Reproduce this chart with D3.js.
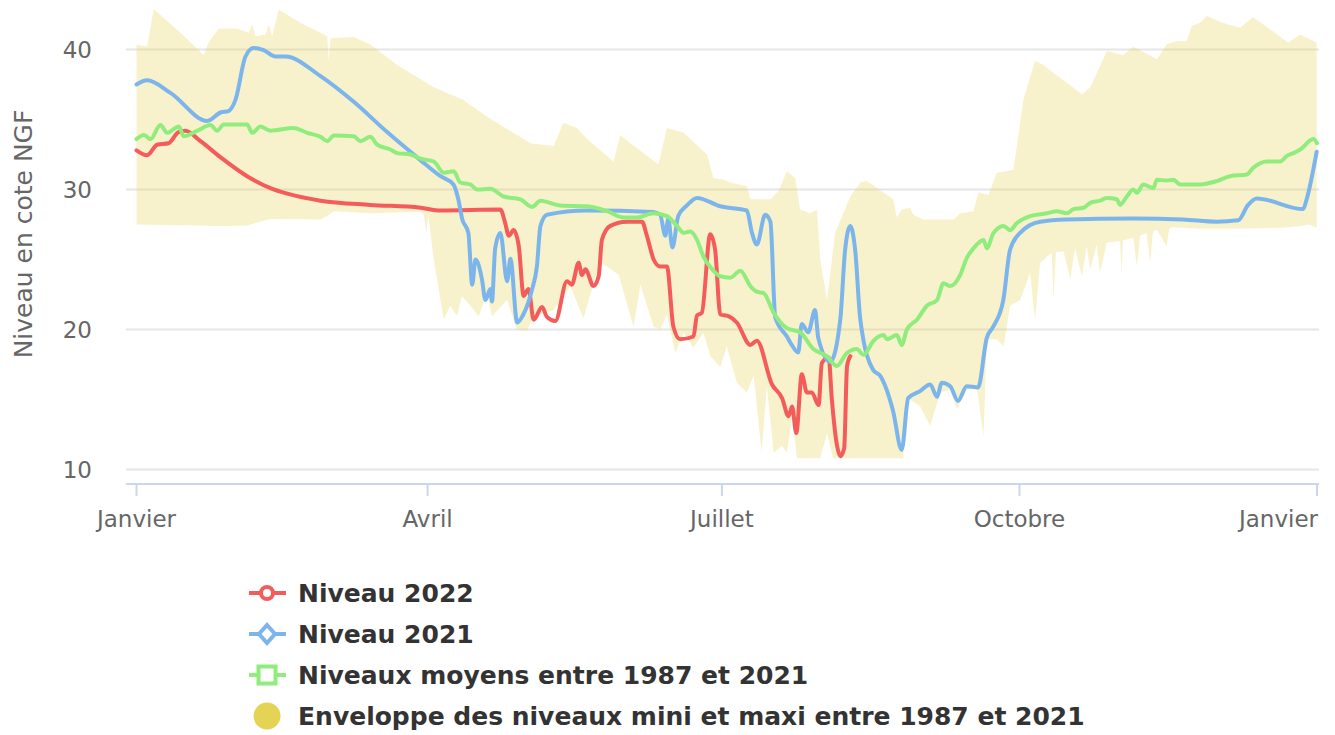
<!DOCTYPE html>
<html>
<head>
<meta charset="utf-8">
<script src="https://cdn.jsdelivr.net/npm/d3@7/dist/d3.min.js"></script>
<style>
  body { margin: 0; background: #fff; }
  svg { display: block; }
</style>
</head>
<body>
<div id="chart"></div>
<script>
(function () {
  'use strict';

  // ---- data: [day of year, level in m NGF] ----
  var niveau2022 = [
    [0, 32.8], [3.3, 32.45], [6.4, 33.2], [9.9, 33.3], [13, 34.1], [15.1, 34.2], [19.8, 33.45],
    [26, 32.3], [34.2, 30.95], [41.4, 30.1], [46.6, 29.7], [56.9, 29.2], [72.3, 28.9], [87.8, 28.7],
    [94, 28.5], [112.5, 28.57], [114, 27.6], [115.1, 26.7], [116.6, 27.1], [118.2, 25.95],
    [119.7, 22.4], [121.2, 22.9], [122.8, 20.7], [125.4, 21.6], [126.9, 20.9], [129.5, 20.6],
    [133.1, 23.45], [134.6, 23.2], [136.7, 24.76], [137.7, 23.9], [138.8, 24.3], [141.3, 23.1],
    [142.9, 23.8], [143.9, 26.4], [146.5, 27.4], [151.6, 27.7], [156.3, 27.7], [157.8, 26.7],
    [159.9, 25.0], [161.9, 24.5], [164, 24.5], [166, 20.2], [168.1, 19.3], [172.2, 19.5],
    [173.3, 21.0], [174.8, 21.2], [177.4, 26.8], [178.9, 25.7], [180.5, 21.07], [183, 20.95],
    [185.6, 20.5], [189.8, 18.9], [191.8, 19.2], [196.5, 16.07], [199.6, 15.1], [201.6, 13.8],
    [202.7, 14.5], [204, 12.6], [205.7, 16.8], [207.3, 15.5], [208.8, 15.5], [210.9, 14.6],
    [211.9, 17.6], [214, 18.0], [215, 15.0], [216.6, 11.7], [217.6, 10.95], [218.8, 11.5],
    [219.7, 17.4], [220.7, 18.1]
  ];

  var niveau2021 = [
    [0, 37.5], [3.3, 37.8], [10.5, 36.9], [21.9, 34.9], [26, 35.5], [28.4, 35.6], [30.6, 36.4],
    [33.7, 39.5], [36.2, 40.1], [39.3, 39.95], [43, 39.5], [46, 39.5], [56.9, 38.1], [67, 36.3],
    [77.5, 34.1], [87.8, 32.1], [94, 30.95], [98, 30.36], [99.5, 29.3], [100.7, 27.9],
    [102.6, 26.9], [103.8, 23.2], [104.8, 25.0], [106.8, 23.6], [107.9, 22.1], [109.4, 22.9],
    [109.9, 22.0], [110.9, 25.8], [112.5, 26.9], [114.6, 23.45], [115.6, 25.06], [117.7, 20.5],
    [119.6, 21.07], [122.3, 22.86], [123.8, 24.5], [124.9, 27.4], [126.9, 28.2], [139.3, 28.5],
    [159.8, 28.4], [161.9, 28.2], [163.5, 26.7], [164.4, 27.9], [165.7, 25.86], [167.5, 28.1],
    [170.2, 28.86], [173.3, 29.4], [180.5, 28.8], [188.7, 28.5], [190.3, 26.9], [191.8, 26.07],
    [194.4, 28.2], [196, 27.7], [197.5, 20.86], [201.1, 19.5], [202.6, 18.9], [204.6, 18.36],
    [205.7, 20.4], [207.7, 19.8], [209.8, 21.4], [210.8, 19.4], [214.5, 17.7], [217.6, 20.7],
    [219.1, 25.7], [220.7, 27.4], [222.2, 25.7], [223.8, 20.7], [227.8, 17.1], [229.9, 16.7],
    [233.9, 14.2], [236.6, 11.4], [238.6, 15.1], [242.3, 15.6], [245.4, 16.07], [247.5, 15.2],
    [249, 16.2], [251.6, 15.95], [254, 14.9], [256.7, 15.95], [260.2, 15.86], [262.9, 19.4],
    [264.9, 20.2], [268, 22.1], [270.1, 25.7], [273.2, 26.9], [279.4, 27.7], [287.6, 27.86],
    [308.1, 27.93], [323.6, 27.86], [334, 27.7], [340.6, 27.8], [343.7, 28.9], [346.4, 29.36],
    [360.7, 28.6], [361.8, 29.3], [364.9, 32.7]
  ];

  var niveauxMoyens = [
    [0, 33.6], [2.3, 33.9], [4.3, 33.6], [7.4, 34.6], [9.5, 34.05], [13.1, 34.5], [14.6, 33.8],
    [18.8, 34.2], [22.9, 34.6], [24.9, 34.2], [27, 34.64], [34.2, 34.64], [35.8, 34.05],
    [38.3, 34.5], [41.4, 34.2], [48.6, 34.4], [52.8, 34.05], [56.9, 33.76], [59, 33.45],
    [61, 33.86], [67.2, 33.8], [69.2, 33.45], [72.3, 33.76], [74.4, 33.2], [78.5, 32.86],
    [80.6, 32.6], [84.7, 32.5], [87.8, 32.2], [91.9, 32.0], [95, 31.2], [98.1, 31.3],
    [100.1, 30.5], [103.2, 30.36], [105.3, 30.0], [109.4, 30.05], [113.5, 29.5], [118.7, 29.3],
    [122.3, 28.76], [124.9, 29.2], [131, 28.86], [139.3, 28.8], [145.5, 28.45], [150.6, 28.0],
    [154.7, 28.0], [159.9, 28.3], [164, 28.1], [167.1, 27.4], [169.2, 26.9], [171.2, 27.0],
    [173.3, 26.4], [175.3, 25.2], [178.4, 24.2], [180.5, 23.8], [183.6, 23.7], [186.7, 24.2],
    [189.8, 23.1], [191.8, 22.7], [193.9, 22.6], [197, 21.2], [201.1, 20.1], [205.2, 19.8],
    [209.3, 18.6], [213.4, 18.1], [216.5, 17.4], [219.6, 18.3], [222.7, 18.6], [224.8, 18.2],
    [227.9, 19.2], [231, 19.6], [232, 19.3], [235.1, 19.6], [236.6, 18.9], [238.2, 20.0],
    [241.3, 20.7], [244.4, 21.7], [247.5, 22.1], [249.5, 23.3], [251.6, 23.1], [254.7, 23.9],
    [256.7, 25.1], [258.8, 25.8], [261.9, 26.4], [262.9, 25.8], [265, 26.9], [268.1, 27.4],
    [270.1, 27.1], [272.2, 27.6], [276.3, 28.1], [281.5, 28.3], [284.6, 28.45], [287.6, 28.3],
    [289.7, 28.6], [292.8, 28.7], [294.9, 29.05], [297.9, 29.2], [300, 29.4], [303.1, 29.3],
    [304.1, 28.9], [306.2, 29.5], [308.2, 30.0], [309.3, 29.76], [311.3, 30.36], [314.4, 30.1],
    [315.5, 30.7], [318.5, 30.64], [320.6, 30.7], [322.7, 30.36], [328.8, 30.36], [334, 30.6],
    [338.1, 30.95], [343.3, 31.07], [345.3, 31.55], [349.5, 32.0], [353.6, 32.0], [355.7, 32.4],
    [357.7, 32.6], [359.8, 32.86], [363.9, 33.6], [365, 33.3]
  ];

  var enveloppeMaxi = [
    [0, 40.36], [3.3, 40.2], [5.3, 42.9], [13.6, 41.2], [20.8, 39.6], [22.3, 40.5], [25.4, 41.5],
    [31.1, 41.5], [34.7, 41.2], [35.8, 41.8], [36.8, 40.95], [39.9, 41.07], [40.9, 41.8],
    [41.9, 40.95], [44, 42.86], [50.7, 41.9], [56.9, 41.2], [59, 40.95], [59.4, 39.2], [60, 40.8],
    [67.2, 40.9], [72.3, 40.36], [80.6, 38.9], [91.9, 37.3], [94, 37.1], [101.1, 36.4],
    [108.4, 35.2], [121.8, 33.3], [129, 33.1], [132, 34.76], [136.2, 34.4], [139.3, 33.6],
    [147.5, 32.0], [149.6, 33.9], [152.7, 33.3], [161.4, 31.8], [164, 34.4], [169.2, 34.05],
    [176.4, 32.5], [178.4, 30.8], [181.5, 30.7], [183.6, 30.5], [188.7, 30.24], [189.8, 29.3],
    [196, 29.3], [198.5, 29.9], [201.1, 31.3], [203.7, 30.8], [205.2, 28.57], [208.3, 28.3],
    [210.4, 28.57], [211.4, 25.0], [213.5, 22.1], [216, 26.9], [220.7, 29.5], [223.8, 30.5],
    [225.8, 30.6], [234, 29.3], [235.1, 28.0], [236.6, 28.57], [239.2, 28.7], [240.2, 28.2],
    [243.3, 27.86], [252.6, 27.86], [254.7, 28.3], [258.8, 28.45], [260.3, 29.8], [263.4, 29.6],
    [266, 31.2], [271.1, 31.4], [272.2, 33.1], [274.2, 36.4], [277.8, 39.2], [280.4, 38.9],
    [292.3, 36.8], [294.9, 37.3], [297.9, 38.8], [300, 39.9], [305.1, 39.6], [308.2, 40.2],
    [315.5, 39.3], [318.5, 40.36], [321.6, 40.6], [324.7, 40.6], [326.3, 41.7], [328.8, 41.9],
    [330.9, 42.4], [336, 41.9], [341.2, 41.55], [345.3, 42.3], [356.1, 40.5], [359.8, 41.07],
    [364.9, 40.5]
  ];

  var enveloppeMini = [
    [0, 27.5], [26, 27.4], [34.2, 27.43], [41.4, 27.9], [56.9, 27.86], [59, 28.1], [61, 28.45],
    [72.3, 28.3], [87.8, 28.4], [88.8, 28.2], [89.6, 26.9], [90.2, 28.2], [91.9, 25.0],
    [95, 20.7], [97, 21.7], [99.1, 20.95], [100.6, 22.4], [103.2, 21.7], [105.8, 20.95],
    [108.4, 22.6], [109.9, 20.95], [114.6, 22.1], [117.6, 20.0], [120.7, 19.9], [122.8, 20.95],
    [129, 21.4], [134.1, 23.1], [138.2, 20.8], [141.3, 23.3], [143.4, 24.76], [145.5, 24.5],
    [149.1, 23.9], [153.7, 20.2], [155.8, 23.2], [159.9, 20.2], [161.9, 20.0], [164, 21.07],
    [166.6, 18.3], [169.2, 19.76], [172.2, 18.7], [175.3, 19.76], [177.4, 18.1], [180.5, 17.3],
    [182.5, 18.8], [185.6, 16.2], [188.7, 15.5], [190.8, 16.7], [193.3, 11.2], [194.9, 15.95],
    [197, 11.2], [199.6, 11.7], [201.1, 11.2], [202.7, 13.8], [204.2, 10.8], [211.4, 10.8],
    [213.5, 12.6], [215.4, 10.8], [237.1, 10.8], [237.6, 13.6], [239.2, 15.0], [242.3, 14.5],
    [245.4, 13.1], [248.5, 15.5], [251.6, 15.7], [253.6, 14.3], [256.7, 15.7], [259.8, 15.95],
    [261.9, 12.4], [262.9, 19.3], [266, 19.3], [268.1, 18.8], [270.1, 21.7], [273.2, 22.1],
    [276.3, 24.05], [277.8, 20.7], [279.4, 24.76], [283, 25.5], [283.5, 22.1], [284.3, 25.5],
    [286.6, 25.6], [288.7, 23.6], [290.2, 25.8], [292.3, 23.8], [293.8, 25.95], [294.9, 24.3],
    [296.9, 26.07], [297.9, 24.05], [300, 26.2], [304.1, 26.3], [304.6, 24.0], [305, 26.35],
    [308.2, 26.55], [309.3, 24.5], [310.3, 26.7], [312.3, 26.9], [313.4, 24.76], [314.3, 27.0],
    [315.5, 27.1], [318.5, 25.95], [319.3, 27.2], [320.1, 27.3], [328.8, 27.2], [339.1, 27.2],
    [354.6, 27.26], [359.8, 27.4], [362.4, 27.5], [364.9, 27.26]
  ];

  var Y_TICKS = [10, 20, 30, 40];
  var MONTH_LABELS = ['Janvier', 'Avril', 'Juillet', 'Octobre', 'Janvier'];
  var Y_TITLE = 'Niveau en cote NGF';

  var LEGEND_ITEMS = [
    { name: 'Niveau 2022', color: '#f45b5b', symbol: 'circle' },
    { name: 'Niveau 2021', color: '#7cb5ec', symbol: 'diamond' },
    { name: 'Niveaux moyens entre 1987 et 2021', color: '#90ed7d', symbol: 'square' },
    { name: 'Enveloppe des niveaux mini et maxi entre 1987 et 2021', color: '#e4d354', symbol: 'area' }
  ];

  // ---- layout ----
  var WIDTH = 1335, HEIGHT = 735;
  var X_START = 136.5, X_END = 1317;
  var Y_TOP = 49.5, Y_BOTTOM = 469.5;
  var PLOT_LEFT = 126, PLOT_RIGHT = 1319;
  var AXIS_Y = 484;
  var FONT = "'DejaVu Sans', Verdana, sans-serif";
  var COLOR_TEXT = '#666666';
  var COLOR_GRID = '#e6e6e6';
  var COLOR_AXIS = '#ccd6eb';

  var t0 = new Date(2022, 0, 1);
  var t1 = new Date(2023, 0, 1);
  function dayToDate(d) { return new Date(t0.getTime() + d * 864e5); }

  var x = d3.scaleTime().domain([t0, t1]).range([X_START, X_END]);
  var y = d3.scaleLinear().domain([10, 40]).range([Y_BOTTOM, Y_TOP]);

  var svg = d3.select('#chart').append('svg')
    .attr('width', WIDTH)
    .attr('height', HEIGHT)
    .style('font-family', FONT);

  // grid
  svg.append('g').selectAll('line').data(Y_TICKS).enter().append('line')
    .attr('x1', PLOT_LEFT).attr('x2', PLOT_RIGHT)
    .attr('y1', function (d) { return y(d); })
    .attr('y2', function (d) { return y(d); })
    .attr('stroke', COLOR_GRID)
    .attr('stroke-width', 2);

  // y labels
  svg.append('g').selectAll('text').data(Y_TICKS).enter().append('text')
    .attr('x', 92)
    .attr('y', function (d) { return y(d) + 8.5; })
    .attr('text-anchor', 'end')
    .attr('fill', COLOR_TEXT)
    .attr('font-size', '23px')
    .text(function (d) { return d; });

  // y title
  svg.append('text')
    .attr('transform', 'translate(32,234) rotate(-90)')
    .attr('text-anchor', 'middle')
    .attr('fill', COLOR_TEXT)
    .attr('font-size', '25px')
    .text(Y_TITLE);

  // x axis
  svg.append('line')
    .attr('x1', PLOT_LEFT).attr('x2', PLOT_RIGHT)
    .attr('y1', AXIS_Y).attr('y2', AXIS_Y)
    .attr('stroke', COLOR_AXIS)
    .attr('stroke-width', 2);

  var xTicks = x.ticks(d3.timeMonth.every(3));
  var xAxis = svg.append('g');
  xAxis.selectAll('line').data(xTicks).enter().append('line')
    .attr('x1', function (d) { return x(d); })
    .attr('x2', function (d) { return x(d); })
    .attr('y1', AXIS_Y).attr('y2', AXIS_Y + 12)
    .attr('stroke', COLOR_AXIS)
    .attr('stroke-width', 2);

  xAxis.selectAll('text').data(xTicks).enter().append('text')
    .attr('x', function (d, i) { return i === xTicks.length - 1 ? x(d) + 1 : x(d); })
    .attr('y', 527)
    .attr('text-anchor', function (d, i) { return i === xTicks.length - 1 ? 'end' : 'middle'; })
    .attr('fill', COLOR_TEXT)
    .attr('font-size', '23px')
    .text(function (d, i) { return MONTH_LABELS[i]; });

  // envelope band (jagged, straight segments)
  var bandLine = d3.line()
    .x(function (d) { return x(dayToDate(d[0])); })
    .y(function (d) { return y(d[1]); });

  var bandPoints = enveloppeMaxi.concat(enveloppeMini.slice().reverse());
  svg.append('path')
    .attr('d', bandLine(bandPoints) + 'Z')
    .attr('fill', '#e4d354')
    .attr('fill-opacity', 0.3)
    .attr('stroke', 'none');

  // series lines (same order as the legend, later ones on top)
  var seriesLine = d3.line()
    .x(function (d) { return x(dayToDate(d[0])); })
    .y(function (d) { return y(d[1]); })
    .curve(d3.curveMonotoneX);

  [[niveau2022, '#f45b5b'], [niveau2021, '#7cb5ec'], [niveauxMoyens, '#90ed7d']].forEach(function (s) {
    svg.append('path')
      .attr('d', seriesLine(s[0]))
      .attr('fill', 'none')
      .attr('stroke', s[1])
      .attr('stroke-width', 4)
      .attr('stroke-linejoin', 'round')
      .attr('stroke-linecap', 'round');
  });

  // legend
  var legend = svg.append('g').attr('transform', 'translate(267,593)');
  LEGEND_ITEMS.forEach(function (item, i) {
    var row = legend.append('g').attr('transform', 'translate(0,' + (i * 41) + ')');
    if (item.symbol === 'area') {
      row.append('ellipse')
        .attr('rx', 13.5).attr('ry', 13.5)
        .attr('fill', item.color);
    } else {
      row.append('line')
        .attr('x1', -18).attr('x2', 19)
        .attr('stroke', item.color)
        .attr('stroke-width', 4);
      var sym;
      if (item.symbol === 'circle') {
        sym = row.append('circle').attr('r', 6);
      } else if (item.symbol === 'diamond') {
        sym = row.append('path').attr('d', 'M0,-9L8,0L0,9L-8,0Z');
      } else {
        sym = row.append('rect').attr('x', -8.5).attr('y', -8.5).attr('width', 17).attr('height', 17);
      }
      sym.attr('fill', '#ffffff')
        .attr('stroke', item.color)
        .attr('stroke-width', 4);
    }
    row.append('text')
      .attr('x', 31)
      .attr('y', 9)
      .attr('fill', '#333333')
      .attr('font-size', '25px')
      .attr('font-weight', 'bold')
      .text(item.name);
  });
})();
</script>
</body>
</html>
